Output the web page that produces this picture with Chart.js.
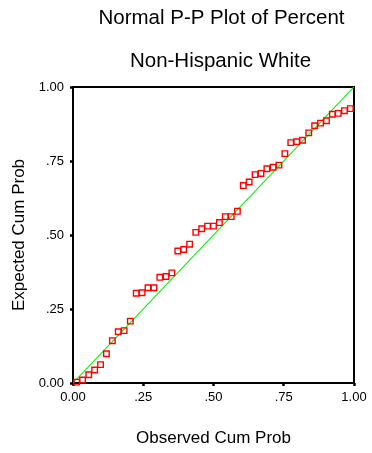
<!DOCTYPE html>
<html>
<head>
<meta charset="utf-8">
<script src="https://cdn.jsdelivr.net/npm/chart.js@4/dist/chart.umd.min.js"></script>
<style>
html,body{margin:0;padding:0;background:#fff;overflow:hidden}
canvas{display:block}
</style>
</head>
<body>
<canvas id="c" width="372" height="453"></canvas>
<script>
const titleLines = ["Normal P-P Plot of Percent", "Non-Hispanic White"];
const xAxisTitle = "Observed Cum Prob";
const yAxisTitle = "Expected Cum Prob";
const tickValues = [0, 0.25, 0.5, 0.75, 1];
const tickLabels = ["0.00", ".25", ".50", ".75", "1.00"];

const observedCumProb = [
  0.013, 0.034, 0.056, 0.077, 0.098, 0.119, 0.140, 0.161, 0.182, 0.204,
  0.225, 0.246, 0.267, 0.288, 0.309, 0.331, 0.352, 0.373, 0.394, 0.415,
  0.437, 0.458, 0.479, 0.500, 0.521, 0.542, 0.563, 0.585, 0.606, 0.627,
  0.648, 0.669, 0.690, 0.712, 0.733, 0.754, 0.775, 0.796, 0.817, 0.839,
  0.860, 0.881, 0.902, 0.923, 0.944, 0.966, 0.987
];
const expectedCumProb = [
  0.003, 0.010, 0.028, 0.044, 0.062, 0.099, 0.143, 0.173, 0.177, 0.209,
  0.303, 0.305, 0.322, 0.322, 0.357, 0.360, 0.372, 0.446, 0.451, 0.469,
  0.509, 0.521, 0.530, 0.530, 0.542, 0.562, 0.562, 0.580, 0.667, 0.679,
  0.704, 0.708, 0.724, 0.729, 0.736, 0.775, 0.812, 0.815, 0.820, 0.845,
  0.869, 0.878, 0.886, 0.908, 0.911, 0.920, 0.927
];
const referenceLineX = [0, 1];
const referenceLineY = [0, 1];

const FAMILY = '"Liberation Sans", Arial, Helvetica, sans-serif';

const points = observedCumProb.map((x, i) => ({x: x, y: expectedCumProb[i]}));
const diag = referenceLineX.map((x, i) => ({x: x, y: referenceLineY[i]}));

function labelFor(v) {
  const i = tickValues.findIndex(t => Math.abs(t - v) < 1e-9);
  return i >= 0 ? tickLabels[i] : '';
}

const titlePlugin = {
  id: 'twoLineTitle',
  afterDraw(chart) {
    const ctx = chart.ctx;
    const ca = chart.chartArea;
    const cx = (ca.left + ca.right) / 2 + 8;
    ctx.save();
    ctx.fillStyle = '#000';
    ctx.font = '20.5px ' + FAMILY;
    ctx.textAlign = 'center';
    ctx.textBaseline = 'alphabetic';
    ctx.fillText(titleLines[0], cx, 24);
    ctx.fillText(titleLines[1], cx - 1, 67);
    ctx.restore();
  }
};

const framePlugin = {
  id: 'frame',
  beforeDatasetsDraw(chart) {
    const ctx = chart.ctx;
    const {left, top, right, bottom} = chart.chartArea;
    ctx.save();
    ctx.strokeStyle = '#000';
    ctx.lineWidth = 2;
    ctx.strokeRect(left, top, right - left, bottom - top);
    ctx.restore();
  }
};

const gridCfg = {
  display: true,
  drawOnChartArea: false,
  drawTicks: true,
  tickLength: 3,
  tickWidth: 2.5,
  tickColor: '#000',
  color: '#000'
};

new Chart(document.getElementById('c'), {
  type: 'scatter',
  data: {
    datasets: [
      {
        label: 'points',
        data: points,
        pointStyle: 'rect',
        pointRadius: 3.9,
        pointBorderWidth: 1.4,
        pointBorderColor: '#ff0000',
        pointBackgroundColor: 'rgba(0,0,0,0)',
        showLine: false,
        clip: false
      },
      {
        label: 'diag',
        type: 'line',
        data: diag,
        borderColor: '#11ee11',
        borderWidth: 1.2,
        pointRadius: 0,
        fill: false,
        tension: 0
      }
    ]
  },
  options: {
    responsive: false,
    devicePixelRatio: 1,
    animation: false,
    layout: { padding: { top: 87, right: 18, left: 0, bottom: 0 } },
    plugins: {
      legend: { display: false },
      tooltip: { enabled: false },
      title: { display: false }
    },
    scales: {
      x: {
        type: 'linear',
        position: 'bottom',
        min: 0, max: 1,
        afterFit(s) { s.height = 70; },
        afterBuildTicks(s) { s.ticks = tickValues.map(v => ({value: v})); },
        ticks: {
          color: '#000',
          padding: 4,
          maxRotation: 0,
          autoSkip: false,
          font: { size: 13, family: FAMILY },
          callback: (v) => labelFor(v)
        },
        grid: gridCfg,
        border: { display: false },
        title: {
          display: true,
          text: xAxisTitle,
          color: '#000',
          font: { size: 17, family: FAMILY },
          padding: { top: 0, bottom: 4 }
        }
      },
      y: {
        type: 'linear',
        position: 'left',
        min: 0, max: 1,
        afterFit(s) { s.width = 73; },
        afterBuildTicks(s) { s.ticks = tickValues.map(v => ({value: v})); },
        ticks: {
          color: '#000',
          padding: 6,
          autoSkip: false,
          font: { size: 13, family: FAMILY },
          callback: (v) => labelFor(v)
        },
        grid: gridCfg,
        border: { display: false },
        title: {
          display: true,
          text: yAxisTitle,
          color: '#000',
          font: { size: 17, family: FAMILY },
          padding: { top: 9, bottom: 0 }
        }
      }
    }
  },
  plugins: [framePlugin, titlePlugin]
});
</script>
</body>
</html>
